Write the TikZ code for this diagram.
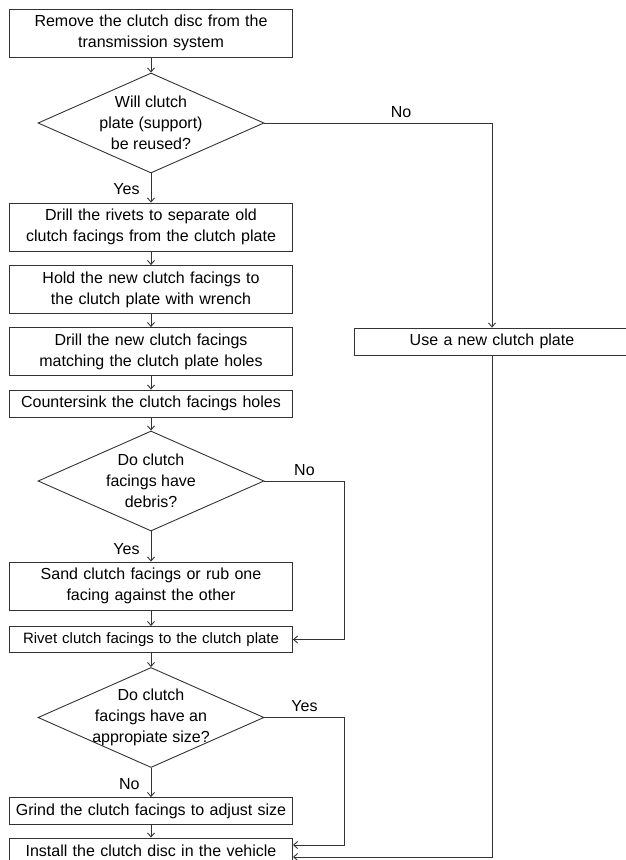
\documentclass[tikz,border=0pt]{standalone}
\usepackage{fontspec}
\setmainfont{Liberation Sans}
\usetikzlibrary{shapes.geometric,arrows.meta}
\definecolor{linegray}{gray}{0.2}

\tikzset{
    stepbox/.style={draw=linegray, line width=0.9pt, align=center, text width=271pt,
        inner sep=6pt, minimum height=26pt},
    query/.style={diamond, draw=linegray, line width=0.9pt, align=center, aspect=2.26,
        inner sep=-6pt, minimum width=226pt, minimum height=100pt},
    flow/.style={->, draw=linegray, line width=0.9pt},
    tag/.style={inner sep=2pt},
}

\begin{document}
\begin{tikzpicture}[x=1pt,y=-1pt,
    >={Straight Barb[length=4pt,width=7pt]},
    every node/.style={font=\fontsize{16}{21}\selectfont}]
    \useasboundingbox (0,0) rectangle (625,860);

    \node[stepbox] (remove) at (151,33) {Remove the clutch disc from the\\transmission system};
    \node[query] (reuse) at (151,123) {Will clutch\\plate (support)\\be reused?};
    \node[stepbox] (rivets) at (151,227) {Drill the rivets to separate old\\clutch facings from the clutch plate};
    \node[stepbox] (hold) at (151,289.5) {Hold the new clutch facings to\\the clutch plate with wrench};
    \node[stepbox] (holes) at (151,351.5) {Drill the new clutch facings\\matching the clutch plate holes};
    \node[stepbox] (sink) at (151,403.5) {Countersink the clutch facings holes};
    \node[query] (debris) at (151,481) {Do clutch\\facings have\\debris?};
    \node[stepbox] (sand) at (151,586) {Sand clutch facings or rub one\\facing against the other};
    \node[stepbox, font=\fontsize{15}{21}\selectfont] (rivet) at (151,639.5) {Rivet clutch facings to the clutch plate};
    \node[query] (sizeok) at (151,717.5) {Do clutch\\facings have an\\appropiate size?};
    \node[stepbox] (grind) at (151,811) {Grind the clutch facings to adjust size};
    \node[stepbox] (install) at (151,851) {Install the clutch disc in the vehicle};
    \node[stepbox, text width=264pt] (newplate) at (492,341.5) {Use a new clutch plate};

    \draw[flow] (remove) -- (reuse);
    \draw[flow] (reuse) -- node[tag, pos=0.55, left=9pt] {Yes} (rivets);
    \draw[flow] (reuse) -| node[tag, pos=0.3, above=3pt] {No} (newplate);
    \draw[flow] (rivets) -- (hold);
    \draw[flow] (hold) -- (holes);
    \draw[flow] (holes) -- (sink);
    \draw[flow] (sink) -- (debris);
    \draw[flow] (debris) -- node[tag, pos=0.6, left=9pt] {Yes} (sand);
    \draw[flow] (debris.east) -- node[tag, midway, above=3pt] {No} ++(80,0) |- (rivet);
    \draw[flow] (sand) -- (rivet);
    \draw[flow] (rivet) -- (sizeok);
    \draw[flow] (sizeok) -- node[tag, pos=0.56, left=9pt] {No} (grind);
    \draw[flow] (sizeok.east) -- node[tag, pos=0.5, above=3pt] {Yes} ++(80,0) |- ([yshift=6pt]install.east);
    \draw[flow] (grind) -- (install);
    \draw[flow] (newplate) |- ([yshift=-6pt]install.east);
\end{tikzpicture}
\end{document}
